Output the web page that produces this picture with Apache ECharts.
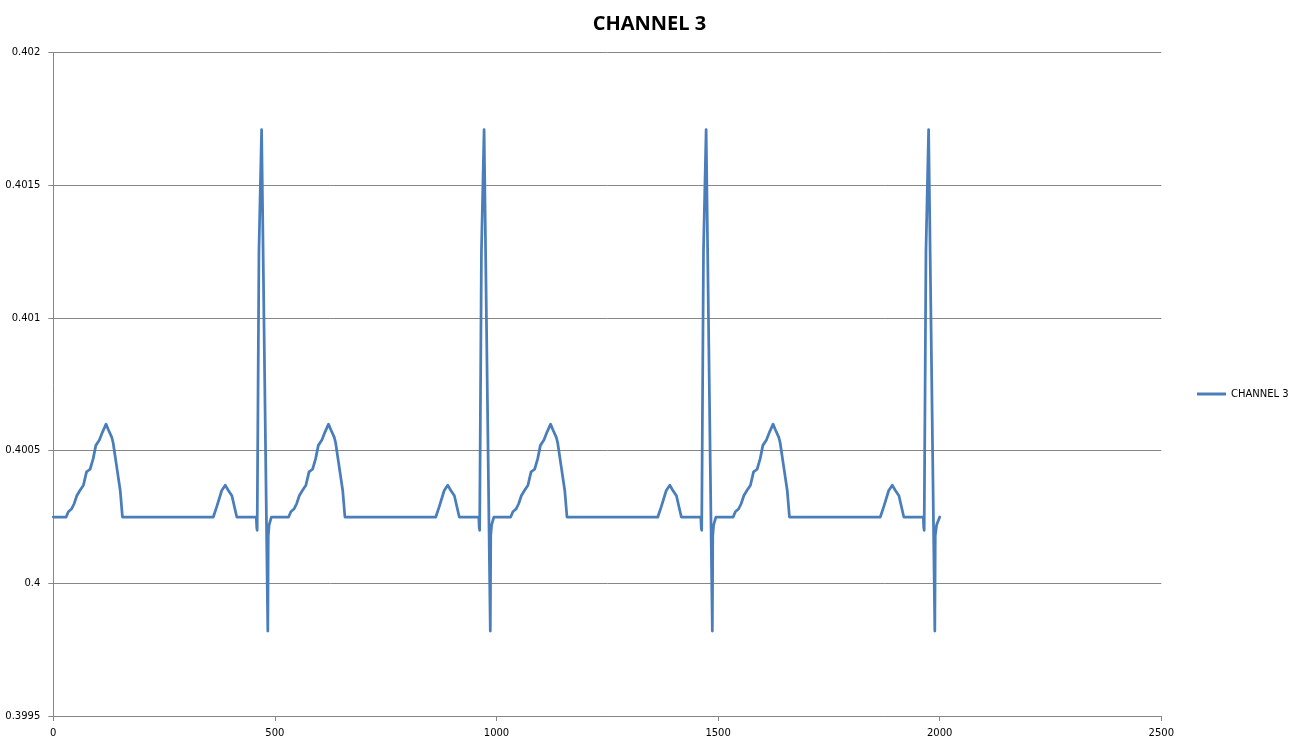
<!DOCTYPE html>
<html>
<head>
<meta charset="utf-8">
<script src="https://cdn.jsdelivr.net/npm/echarts@6/dist/echarts.min.js"></script>
<style>
html,body{margin:0;padding:0;background:#fff;}
#chart{width:1299px;height:746px;}
</style>
</head>
<body>
<div id="chart"></div>
<script>
var titleText = 'CHANNEL 3';
var seriesName = 'CHANNEL 3';
var xTicks = [0, 500, 1000, 1500, 2000, 2500];
var yTicks = ['0.3995', '0.4', '0.4005', '0.401', '0.4015', '0.402'];

var beat1 = [[0,0.40025],[29,0.40025],[34,0.40027],[41,0.40028],[47,0.4003],[53,0.40033],[60,0.40035],[68,0.40037],[75,0.40042],[83,0.40043],[90,0.40047],[96,0.40052],[104,0.40054],[111,0.40057],[119,0.4006],[124,0.40058],[132,0.40055],[135,0.40053],[143,0.40044],[151,0.40035],[156,0.40025],[361,0.40025],[369,0.40029],[380,0.40035],[388,0.40037],[395,0.40035],[403,0.40033],[414,0.40025],[458,0.40025],[459,0.40021],[460,0.4002],[464,0.40125],[470,0.40171],[473,0.40171],[484,0.39982],[485,0.40018],[487,0.40022],[492,0.40025]];
var beat2 = [[531,0.40025],[536,0.40027],[543,0.40028],[549,0.4003],[555,0.40033],[562,0.40035],[570,0.40037],[577,0.40042],[585,0.40043],[592,0.40047],[598,0.40052],[606,0.40054],[613,0.40057],[621,0.4006],[626,0.40058],[634,0.40055],[637,0.40053],[645,0.40044],[653,0.40035],[658,0.40025],[863,0.40025],[871,0.40029],[882,0.40035],[890,0.40037],[897,0.40035],[905,0.40033],[916,0.40025],[960,0.40025],[961,0.40021],[962,0.4002],[966,0.40125],[972,0.40171],[975,0.40171],[986,0.39982],[987,0.40018],[989,0.40022],[994,0.40025]];
var beat3 = [[1032,0.40025],[1037,0.40027],[1044,0.40028],[1050,0.4003],[1056,0.40033],[1063,0.40035],[1071,0.40037],[1078,0.40042],[1086,0.40043],[1093,0.40047],[1099,0.40052],[1107,0.40054],[1114,0.40057],[1122,0.4006],[1127,0.40058],[1135,0.40055],[1138,0.40053],[1146,0.40044],[1154,0.40035],[1159,0.40025],[1364,0.40025],[1372,0.40029],[1383,0.40035],[1391,0.40037],[1398,0.40035],[1406,0.40033],[1417,0.40025],[1461,0.40025],[1462,0.40021],[1463,0.4002],[1467,0.40125],[1473,0.40171],[1476,0.40171],[1487,0.39982],[1488,0.40018],[1490,0.40022],[1495,0.40025]];
var beat4 = [[1534,0.40025],[1539,0.40027],[1546,0.40028],[1552,0.4003],[1558,0.40033],[1565,0.40035],[1573,0.40037],[1580,0.40042],[1588,0.40043],[1595,0.40047],[1601,0.40052],[1609,0.40054],[1616,0.40057],[1624,0.4006],[1629,0.40058],[1637,0.40055],[1640,0.40053],[1648,0.40044],[1656,0.40035],[1661,0.40025],[1866,0.40025],[1874,0.40029],[1885,0.40035],[1893,0.40037],[1900,0.40035],[1908,0.40033],[1919,0.40025],[1963,0.40025],[1964,0.40021],[1965,0.4002],[1969,0.40125],[1975,0.40171],[1978,0.40171],[1989,0.39982],[1990,0.40018],[1993,0.40022],[2000,0.40025]];

var data = beat1.concat(beat2, beat3, beat4);

var chart = echarts.init(document.getElementById('chart'), null, {renderer: 'canvas'});
var labelFont = {fontFamily: 'DejaVu Sans', fontSize: 10, color: '#000'};
chart.setOption({
  animation: false,
  backgroundColor: '#fff',
  title: {
    text: titleText,
    left: 'center',
    top: 9,
    textStyle: {fontFamily: 'Open Sans', fontWeight: 'bold', fontSize: 20, color: '#000'}
  },
  legend: {
    left: 1192,
    top: 384,
    icon: 'rect',
    itemWidth: 29,
    itemHeight: 3,
    itemGap: 2,
    textStyle: {fontFamily: 'DejaVu Sans', fontSize: 10, color: '#000'},
    data: [seriesName]
  },
  grid: {left: 53.3, top: 52.7, width: 1108, height: 663.3, containLabel: false},
  xAxis: {
    type: 'value',
    min: xTicks[0],
    max: xTicks[xTicks.length - 1],
    interval: 500,
    axisLine: {show: true, lineStyle: {color: '#868686', width: 1}},
    axisTick: {show: true, length: 5, lineStyle: {color: '#868686'}},
    axisLabel: Object.assign({
      margin: 12,
      formatter: function (v) { return String(Math.round(v)); }
    }, labelFont),
    splitLine: {show: false}
  },
  yAxis: {
    type: 'value',
    min: 0.3995,
    max: 0.402,
    interval: 0.0005,
    axisLine: {show: true, lineStyle: {color: '#868686', width: 1}},
    axisTick: {show: true, length: 5, lineStyle: {color: '#868686'}},
    axisLabel: Object.assign({
      margin: 13,
      formatter: function (v) {
        var s = parseFloat(v.toFixed(4)).toString();
        for (var i = 0; i < yTicks.length; i++) { if (yTicks[i] === s) return yTicks[i]; }
        return s;
      }
    }, labelFont),
    splitLine: {show: true, lineStyle: {color: '#868686', width: 1}}
  },
  series: [{
    name: seriesName,
    type: 'line',
    data: data,
    showSymbol: false,
    symbol: 'none',
    smooth: false,
    lineStyle: {color: '#4a7ebb', width: 2.75, join: 'round', cap: 'round'},
    itemStyle: {color: '#4a7ebb'}
  }]
});
</script>
</body>
</html>
